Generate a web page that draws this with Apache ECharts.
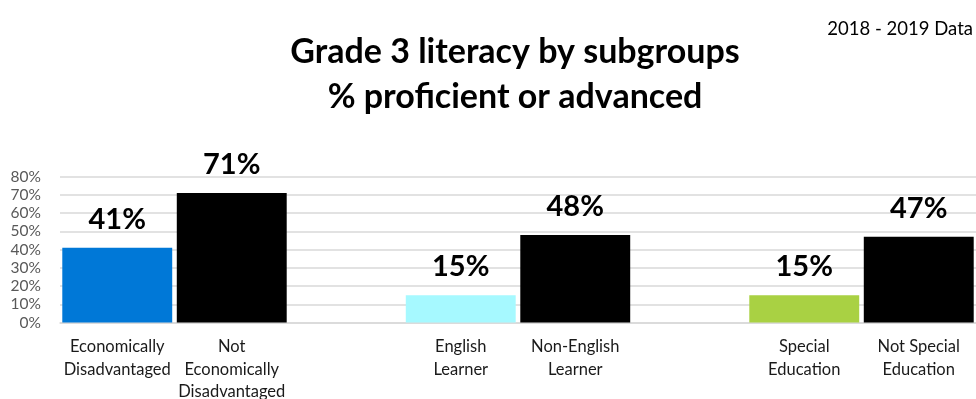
<!DOCTYPE html>
<html>
<head>
<meta charset="utf-8">
<script src="https://cdn.jsdelivr.net/npm/echarts@6/dist/echarts.min.js"></script>
<style>
  html, body { margin: 0; padding: 0; background: #fff; }
  #chart { width: 976px; height: 399px; }
</style>
</head>
<body>
<div id="chart"></div>
<script>
// Subgroup categories; empty strings leave a gap between the pairs.
const categories = [
  'Economically\nDisadvantaged',
  'Not\nEconomically\nDisadvantaged',
  '',
  'English\nLearner',
  'Non-English\nLearner',
  '',
  'Special\nEducation',
  'Not Special\nEducation'
];
// Percent proficient or advanced (null = spacer slot).
const values = [41, 71, null, 15, 48, null, 15, 47];
const barColors = ['#0078D7', '#000000', '#ffffff', '#A6F9FF', '#000000', '#ffffff', '#A9D143', '#000000'];
const yTicks = [0, 10, 20, 30, 40, 50, 60, 70, 80];

const FONT = 'Lato, "Open Sans", sans-serif';
const chart = echarts.init(document.getElementById('chart'), null, { renderer: 'canvas' });

chart.setOption({
  animation: false,
  backgroundColor: '#ffffff',
  graphic: [
    {
      type: 'text',
      style: {
        x: 515, y: 52, text: 'Grade 3 literacy by subgroups',
        textAlign: 'center', textVerticalAlign: 'middle',
        font: 'bold 34px ' + FONT, fill: '#000'
      }
    },
    {
      type: 'text',
      style: {
        x: 515, y: 97, text: '% proficient or advanced',
        textAlign: 'center', textVerticalAlign: 'middle',
        font: 'bold 34px ' + FONT, fill: '#000'
      }
    },
    {
      type: 'text',
      style: {
        x: 973, y: 29, text: '2018 - 2019 Data',
        textAlign: 'right', textVerticalAlign: 'middle',
        font: '18.5px ' + FONT, fill: '#000'
      }
    }
  ],
  grid: { left: 60, right: 0, top: 176.5, bottom: 76.5, containLabel: false, outerBoundsMode: 'none' },
  xAxis: {
    type: 'category',
    data: categories,
    axisTick: { show: false },
    axisLine: { show: true, lineStyle: { color: '#d9d9d9', width: 1.5 } },
    axisLabel: {
      interval: 0, margin: 13, color: '#1a1a1a',
      fontFamily: FONT, fontSize: 16.5, lineHeight: 22.5, align: 'center'
    }
  },
  yAxis: {
    type: 'value',
    min: yTicks[0], max: yTicks[yTicks.length - 1], interval: 10,
    axisLine: { show: false },
    axisTick: { show: false },
    splitLine: { lineStyle: { color: '#d9d9d9', width: 1.5 } },
    axisLabel: {
      formatter: v => v + '%', margin: 19, color: '#595959',
      fontFamily: FONT, fontSize: 15.5
    }
  },
  series: [{
    type: 'bar',
    data: values.map((v, i) => ({ value: v, itemStyle: { color: barColors[i] } })),
    barCategoryGap: '4%',
    label: {
      show: true, position: 'top', distance: 14,
      formatter: p => p.value == null ? '' : p.value + '%',
      fontFamily: FONT, fontWeight: 'bold', fontSize: 29, color: '#000'
    }
  }]
});
</script>
</body>
</html>
